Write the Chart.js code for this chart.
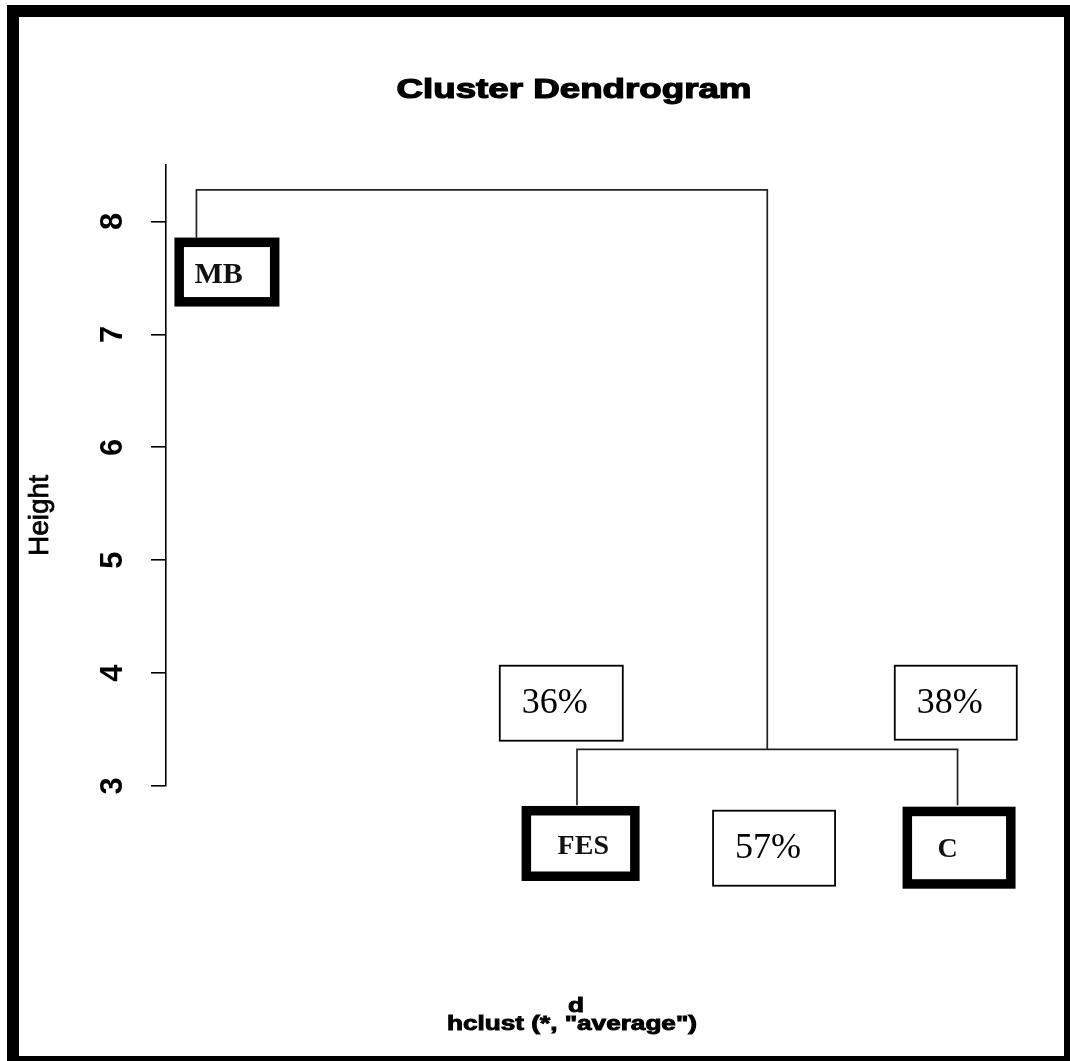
<!DOCTYPE html>
<html>
<head>
<meta charset="utf-8">
<title>Cluster Dendrogram</title>
<script src="https://cdn.jsdelivr.net/npm/chart.js@4.4.1/dist/chart.umd.min.js"></script>
<style>
  html, body { margin: 0; padding: 0; background: #fff; }
  #wrap { position: relative; width: 1070px; height: 1061px; }
</style>
</head>
<body>
<div id="wrap"><canvas id="dendro"></canvas></div>
<script>
// leaves in plotting order, left to right
const leafLabels = ['MB', 'FES', 'C'];
const leafHeights = [7.79, 2.83, 2.83];
// merge table in the style of hclust$merge: negative = leaf, positive = earlier merge
const mergeLeft = [-2, -1];
const mergeRight = [-3, 1];
const mergeHeights = [3.325, 8.28];
const heightTicks = [3, 4, 5, 6, 7, 8];
const shareLabels = ['36%', '57%', '38%'];

function nodePos(id) {
  if (id < 0) return { x: -id, y: leafHeights[-id - 1] };
  const a = nodePos(mergeLeft[id - 1]);
  const b = nodePos(mergeRight[id - 1]);
  return { x: (a.x + b.x) / 2, y: mergeHeights[id - 1] };
}

const segments = mergeHeights.map((h, k) => {
  const a = nodePos(mergeLeft[k]);
  const b = nodePos(mergeRight[k]);
  return [{ x: a.x, y: a.y }, { x: a.x, y: h }, { x: b.x, y: h }, { x: b.x, y: b.y }];
});

// box placement, in pixels relative to the leaf end / the FES-C node
const leafBoxes = [
  { dx: -22, dy: -7.6, w: 105, h: 69, tx: 20, ty: 45, size: 30 },
  { dx: -55.4, dy: 0.8, w: 118, h: 75, tx: 36, ty: 48, size: 28 },
  { dx: -55, dy: 1.5, w: 113, h: 82, tx: 35, ty: 50, size: 28 },
];
const shareBoxes = [
  { dx: -267.5, dy: -83.6, w: 123, h: 75 },
  { dx: -54.2, dy: 61.4, w: 122, h: 75 },
  { dx: 127.5, dy: -83.6, w: 122, h: 74 },
];

// the source picture is stretched sideways, so some texts get squeezed to a width
function stretchText(ctx, text, cx, base, font, width, heavy) {
  ctx.save();
  ctx.font = font;
  const w = ctx.measureText(text).width;
  ctx.translate(cx, base);
  ctx.scale(width / w, 1);
  ctx.textAlign = 'center';
  ctx.textBaseline = 'alphabetic';
  ctx.fillStyle = '#000';
  ctx.fillText(text, 0, 0);
  if (heavy) {
    ctx.lineWidth = heavy;
    ctx.strokeStyle = '#000';
    ctx.strokeText(text, 0, 0);
  }
  ctx.restore();
}

const overlay = {
  id: 'overlay',
  afterDatasetsDraw(chart) {
    const { ctx, scales: { x, y } } = chart;
    ctx.save();
    ctx.textAlign = 'left';
    ctx.textBaseline = 'alphabetic';

    leafLabels.forEach((label, i) => {
      const b = leafBoxes[i];
      const left = x.getPixelForValue(i + 1) + b.dx;
      const top = y.getPixelForValue(leafHeights[i]) + b.dy;
      ctx.fillStyle = '#fff';
      ctx.fillRect(left, top, b.w, b.h);
      ctx.lineWidth = 9.5;
      ctx.strokeStyle = '#000';
      ctx.strokeRect(left + 4.75, top + 4.75, b.w - 9.5, b.h - 9.5);
      ctx.fillStyle = '#111';
      ctx.font = 'bold ' + b.size + 'px "Liberation Serif"';
      ctx.fillText(label, left + b.tx, top + b.ty);
    });

    const node = nodePos(1);
    const nx = x.getPixelForValue(node.x);
    const ny = y.getPixelForValue(node.y);
    shareLabels.forEach((label, i) => {
      const b = shareBoxes[i];
      const left = nx + b.dx;
      const top = ny + b.dy;
      ctx.fillStyle = '#fff';
      ctx.fillRect(left, top, b.w, b.h);
      ctx.lineWidth = 1.8;
      ctx.strokeStyle = '#000';
      ctx.strokeRect(left, top, b.w, b.h);
      ctx.fillStyle = '#000';
      ctx.font = '36px "Liberation Serif"';
      ctx.fillText(label, left + 22, top + 47);
    });
    ctx.restore();
  },
  afterDraw(chart) {
    const { ctx, chartArea } = chart;
    const cx = (chartArea.left + chartArea.right) / 2;
    stretchText(ctx, 'Cluster Dendrogram', cx - 3, 97.5, 'bold 27px "Liberation Sans"', 355, 1.2);
    stretchText(ctx, 'd', cx - 1, 1011.5, 'bold 20px "Liberation Sans"', 16, 0.9);
    stretchText(ctx, 'hclust (*, "average")', cx - 5, 1030, 'bold 20px "Liberation Sans"', 250, 0.9);

    ctx.save();
    ctx.translate(48, 515.5);
    ctx.rotate(-Math.PI / 2);
    ctx.font = '28px "Liberation Sans"';
    ctx.textAlign = 'center';
    ctx.fillStyle = '#000';
    ctx.strokeStyle = '#000';
    ctx.lineWidth = 0.8;
    ctx.fillText('Height', 0, 0);
    ctx.strokeText('Height', 0, 0);
    ctx.restore();

    // frame around the figure
    ctx.save();
    ctx.lineWidth = 12;
    ctx.strokeStyle = '#000';
    ctx.strokeRect(13, 11, 1057, 1051);
    ctx.restore();
  },
};

new Chart(document.getElementById('dendro'), {
  type: 'scatter',
  data: {
    datasets: segments.map((pts) => ({
      data: pts,
      showLine: true,
      borderColor: '#222',
      borderWidth: 1.7,
      pointRadius: 0,
      tension: 0,
      clip: false,
    })),
  },
  options: {
    animation: false,
    responsive: true,
    maintainAspectRatio: false,
    layout: {
      padding: { left: 0, top: 165, right: 82, bottom: 275 },
    },
    scales: {
      x: {
        type: 'linear',
        display: false,
        min: 0.92,
        max: 3.08,
      },
      y: {
        type: 'linear',
        min: 3,
        max: 8.5,
        afterFit: (scale) => { scale.width = 166; },
        afterBuildTicks: (scale) => {
          scale.ticks = heightTicks.map((v) => ({ value: v }));
        },
        border: { display: true, color: '#000', width: 1.6 },
        grid: {
          drawOnChartArea: false,
          drawTicks: true,
          tickLength: 15,
          color: '#000',
          lineWidth: 1.6,
        },
        ticks: {
          minRotation: 90,
          maxRotation: 90,
          crossAlign: 'center',
          padding: 29,
          color: '#000',
          font: { family: '"Liberation Sans"', size: 31, weight: 'bold' },
        },
      },
    },
    plugins: {
      legend: { display: false },
      tooltip: { enabled: false },
    },
  },
  plugins: [overlay],
});
</script>
</body>
</html>
